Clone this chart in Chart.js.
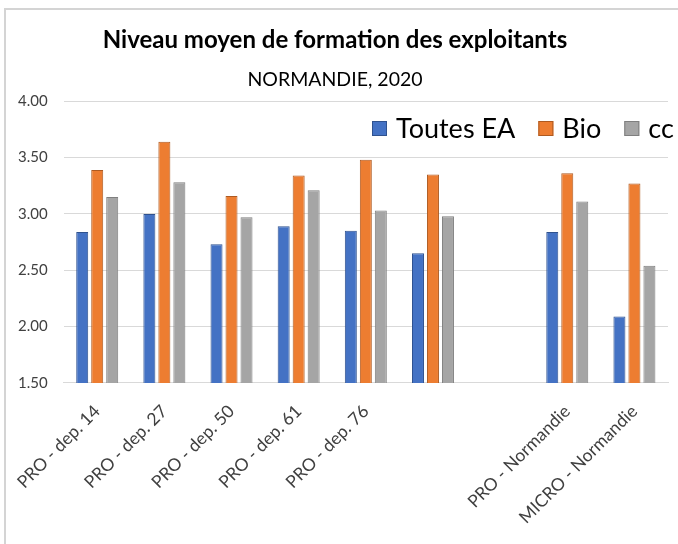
<!DOCTYPE html>
<html>
<head>
<meta charset="utf-8">
<script src="https://cdn.jsdelivr.net/npm/chart.js@4.4.1/dist/chart.umd.min.js"></script>
<style>
  html, body { margin: 0; padding: 0; background: #fff; }
  #wrap { position: relative; width: 678px; height: 544px; }
  #frame { position: absolute; left: 4px; top: 8px; right: 0; bottom: 0;
           border-top: 2px solid #d4d4d4; border-left: 2px solid #d4d4d4; pointer-events: none; }
</style>
</head>
<body>
<div id="wrap">
  <canvas id="myChart" width="678" height="544"></canvas>
  <div id="frame"></div>
</div>
<script>
// categories (6th and 7th have no label in the original)
var categories = ['PRO - dep. 14', 'PRO - dep. 27', 'PRO - dep. 50', 'PRO - dep. 61', 'PRO - dep. 76', '', '', 'PRO - Normandie', 'MICRO - Normandie'];
var toutesEA = [2.84, 3.00, 2.73, 2.89, 2.85, 2.65, null, 2.84, 2.09];
var bio      = [3.39, 3.64, 3.16, 3.34, 3.48, 3.35, null, 3.36, 3.27];
var cc       = [3.15, 3.28, 2.97, 3.21, 3.03, 2.98, null, 3.11, 2.54];
var yTicks = [1.5, 2.0, 2.5, 3.0, 3.5, 4.0];

var FONT = 'Lato, "Noto Sans", sans-serif';

// legend drawn inside the plot area, top right, like the original
var innerLegend = {
    id: 'innerLegend',
    afterDraw: function (chart) {
        var ctx = chart.ctx;
        var x = 372, y = 128;
        ctx.save();
        ctx.font = '27px ' + FONT;
        ctx.textBaseline = 'middle';
        chart.data.datasets.forEach(function (ds) {
            ctx.fillStyle = ds.backgroundColor;
            ctx.strokeStyle = ds.borderColor;
            ctx.lineWidth = 1;
            ctx.fillRect(x, y - 7, 15, 15);
            ctx.strokeRect(x + 0.5, y - 6.5, 14, 14);
            ctx.fillStyle = '#000';
            ctx.fillText(ds.label, x + 24, y + 1);
            x += 24 + ctx.measureText(ds.label).width + 23;
        });
        ctx.restore();
    }
};

document.addEventListener('DOMContentLoaded', function () {
    var ctx = document.getElementById('myChart').getContext('2d');
    var myChart = new Chart(ctx, {
        type: 'bar',
        data: {
            labels: categories,
            datasets: [{
                label: 'Toutes EA',
                data: toutesEA,
                backgroundColor: '#4472C4',
                borderColor: '#2F528F',
                borderWidth: 1
            }, {
                label: 'Bio',
                data: bio,
                backgroundColor: '#ED7D31',
                borderColor: '#AE5A21',
                borderWidth: 1
            }, {
                label: 'cc',
                data: cc,
                backgroundColor: '#A5A5A5',
                borderColor: '#7F7F7F',
                borderWidth: 1
            }]
        },
        options: {
            responsive: false,
            animation: false,
            categoryPercentage: 0.67,
            barPercentage: 0.8,
            layout: { padding: { left: 2, right: 10, top: 0, bottom: 6 } },
            plugins: {
                legend: { display: false },
                tooltip: { enabled: false },
                title: {
                    display: true,
                    text: 'Niveau moyen de formation des exploitants',
                    color: '#000',
                    font: { family: FONT, size: 24, weight: 'bold' },
                    padding: { top: 26, bottom: 13 }
                },
                subtitle: {
                    display: true,
                    text: 'NORMANDIE, 2020',
                    color: '#000',
                    font: { family: FONT, size: 19.5 },
                    padding: { top: 0, bottom: 10 }
                }
            },
            scales: {
                x: {
                    grid: { display: false },
                    border: { color: '#D9D9D9', width: 1 },
                    ticks: {
                        color: '#404040',
                        padding: 10,
                        font: { family: FONT, size: 17.5 },
                        maxRotation: 45,
                        minRotation: 45,
                        autoSkip: false
                    }
                },
                y: {
                    min: yTicks[0],
                    max: yTicks[yTicks.length - 1],
                    afterBuildTicks: function (axis) {
                        axis.ticks = yTicks.map(function (v) { return { value: v }; });
                    },
                    grid: { color: '#D9D9D9', lineWidth: 1, drawTicks: false },
                    border: { display: false },
                    ticks: {
                        color: '#404040',
                        padding: 16,
                        font: { family: FONT, size: 15 },
                        callback: function (v) { return Number(v).toFixed(2); }
                    }
                }
            }
        },
        plugins: [innerLegend]
    });
});
</script>
</body>
</html>
